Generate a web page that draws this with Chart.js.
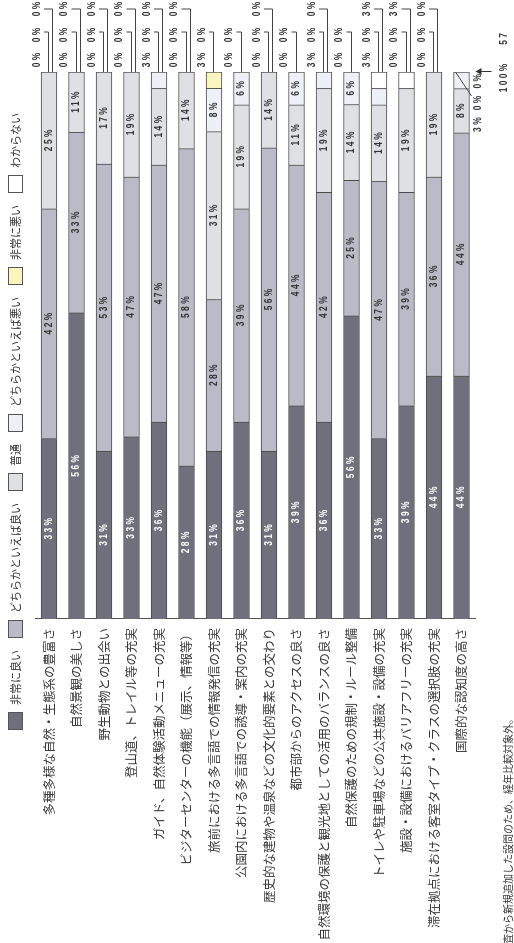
<!DOCTYPE html>
<html lang="ja">
<head>
<meta charset="UTF-8">
<title>国立公園の評価</title>
<style>
  html, body { margin: 0; padding: 0; background: #fff; overflow: hidden; }
  /* chart is laid out landscape and turned a quarter turn counter-clockwise */
  #wrap {
    position: absolute; left: 0; top: 0;
    width: 943px; height: 514px;
    transform-origin: 0 0;
    transform: translateY(943px) rotate(-90deg);
  }
</style>
</head>
<body>
<div id="wrap"><canvas id="chart" width="943" height="514"></canvas></div>

<script src="https://cdn.jsdelivr.net/npm/chart.js@4"></script>
<script>
const categories = [
    '多種多様な自然・生態系の豊富さ',
    '自然景観の美しさ',
    '野生動物との出会い',
    '登山道、トレイル等の充実',
    'ガイド、自然体験活動メニューの充実',
    'ビジターセンターの機能（展示、情報等）',
    '旅前における多言語での情報発信の充実',
    '公園内における多言語での誘導・案内の充実',
    '歴史的な建物や温泉などの文化的要素との交わり',
    '都市部からのアクセスの良さ',
    '自然環境の保護と観光地としての活用のバランスの良さ',
    '自然保護のための規制・ルール整備',
    'トイレや駐車場などの公共施設・設備の充実',
    '施設・設備におけるバリアフリーの充実',
    '滞在拠点における客室タイプ・クラスの選択肢の充実',
    '国際的な認知度の高さ'
];
const seriesNames = ['非常に良い', 'どちらかといえば良い', '普通', 'どちらかといえば悪い', '非常に悪い', 'わからない'];
const seriesColors = ['#70707c', '#babbc7', '#dfe0e4', '#eef0f7', '#faf5bf', '#ffffff'];

const veryGood = [33, 56, 31, 33, 36, 28, 31, 36, 31, 39, 36, 56, 33, 39, 44, 44];
const good     = [42, 33, 53, 47, 47, 58, 28, 39, 56, 44, 42, 25, 47, 39, 36, 44];
const neutral  = [25, 11, 17, 19, 14, 14, 31, 19, 14, 11, 19, 14, 14, 19, 19, 8];
const bad      = [0, 0, 0, 0, 3, 0, 8, 6, 0, 6, 3, 6, 3, 0, 0, 3];
const veryBad  = [0, 0, 0, 0, 0, 0, 3, 0, 0, 0, 0, 0, 0, 0, 0, 0];
const unknown  = [0, 0, 0, 0, 0, 0, 0, 0, 0, 0, 0, 0, 3, 3, 0, 0];

const footnote = '査から新規追加した設問のため、経年比較対象外。';
const totalNote = ['100%', '57'];

const rawValues = [veryGood, good, neutral, bad, veryBad, unknown];

// bars are drawn as shares of each row so every bar reaches the 100% line
const rowSums = categories.map((c, i) => rawValues.reduce((s, arr) => s + arr[i], 0));

const jpFont = '"Noto Sans CJK JP", "Noto Sans", sans-serif';

// percentages are set in a squeezed, letter-spaced face like the original
function drawPct(ctx, text, x, y, align) {
    const sx = 0.8;
    ctx.save();
    ctx.font = 'bold 10.5px "Liberation Sans", Arial, sans-serif';
    ctx.letterSpacing = '3px';
    ctx.textBaseline = 'middle';
    const w = ctx.measureText(text).width - 3;
    let left = x;
    if (align === 'center') left = x - w * sx / 2;
    if (align === 'right') left = x - w * sx;
    ctx.translate(left, y);
    ctx.scale(sx, 1);
    ctx.textAlign = 'left';
    ctx.fillText(text, 0, 0);
    ctx.restore();
}

const legendPlugin = {
    id: 'customLegend',
    afterDraw(chart) {
        const ctx = chart.ctx;
        ctx.save();
        ctx.font = '11px ' + jpFont;
        ctx.textBaseline = 'middle';
        ctx.textAlign = 'left';
        let x = 213;
        const y = 8;
        seriesNames.forEach((name, i) => {
            ctx.fillStyle = seriesColors[i];
            ctx.fillRect(x, y, 18, 15);
            ctx.strokeStyle = '#555';
            ctx.lineWidth = 1;
            ctx.strokeRect(x + 0.5, y + 0.5, 17, 14);
            ctx.fillStyle = '#333';
            ctx.fillText(name, x + 25, y + 8);
            x += 25 + ctx.measureText(name).width + 12;
        });
        ctx.restore();
    }
};

const pctPlugin = {
    id: 'pctLabels',
    afterDatasetsDraw(chart) {
        const ctx = chart.ctx;
        const xs = chart.scales.x, ys = chart.scales.y;
        const xEnd = xs.getPixelForValue(100);
        ctx.save();

        // labels inside the segments
        chart.data.datasets.forEach((ds, di) => {
            const meta = chart.getDatasetMeta(di);
            meta.data.forEach((bar, i) => {
                const v = rawValues[di][i];
                if (v < 5) return;
                ctx.fillStyle = di === 0 ? '#ffffff' : '#333333';
                drawPct(ctx, v + '%', (bar.base + bar.x) / 2, bar.y, 'center');
            });
        });

        // small shares are written past the end of the bar with leader lines
        ctx.strokeStyle = '#444';
        ctx.lineWidth = 1;
        categories.forEach((c, i) => {
            const yc = ys.getPixelForValue(i);
            const small = [3, 4, 5].filter(di => rawValues[di][i] < 5);
            ctx.fillStyle = '#333';
            if (i === categories.length - 1) {
                // last row: labels sit under the bar end
                const txt = small.map(di => rawValues[di][i] + '%').join(' ');
                drawPct(ctx, txt, xEnd - 2, yc + 17, 'right');
                ctx.beginPath();
                ctx.moveTo(xEnd, yc - 6);
                ctx.lineTo(xEnd - 24, yc + 10);
                ctx.stroke();
                return;
            }
            const offs = [12, 37, 63];
            small.forEach((di, k) => {
                const xk = xEnd + offs[k];
                drawPct(ctx, rawValues[di][i] + '%', xk, yc - 12, 'center');
                if (k > 0) {
                    const ly = Math.round(yc + (k === 1 ? -1 : 3)) + 0.5;
                    const lx = xk + (k === 1 ? 3 : 0);
                    ctx.beginPath();
                    ctx.moveTo(xEnd, ly);
                    ctx.lineTo(lx, ly);
                    ctx.lineTo(lx, yc - 5);
                    ctx.stroke();
                }
            });
        });
        ctx.restore();
    },
    afterDraw(chart) {
        const ctx = chart.ctx;
        const xs = chart.scales.x, ys = chart.scales.y;
        const xEnd = xs.getPixelForValue(100);
        const yLast = ys.getPixelForValue(categories.length - 1);
        ctx.save();
        // total marker
        ctx.fillStyle = '#333';
        drawPct(ctx, totalNote[0], xEnd - 6, yLast + 43, 'center');
        drawPct(ctx, totalNote[1], xEnd + 33, yLast + 43, 'center');
        ctx.strokeStyle = '#333';
        ctx.beginPath();
        ctx.moveTo(xEnd + 0.5, yLast + 30);
        ctx.lineTo(xEnd + 0.5, yLast + 18);
        ctx.stroke();
        ctx.beginPath();
        ctx.moveTo(xEnd + 0.5, yLast + 14);
        ctx.lineTo(xEnd - 3, yLast + 20);
        ctx.lineTo(xEnd + 4, yLast + 20);
        ctx.closePath();
        ctx.fill();
        // footnote
        ctx.font = '10px ' + jpFont;
        ctx.textBaseline = 'middle';
        ctx.textAlign = 'left';
        ctx.fillText(footnote, -1, 508);
        ctx.restore();
    }
};

const datasets = seriesNames.map((name, di) => ({
    label: name,
    data: rawValues[di].map((v, i) => v / rowSums[i] * 100),
    backgroundColor: seriesColors[di],
    borderColor: '#4a4a4a',
    borderWidth: 1,
    barThickness: 16
}));

new Chart(document.getElementById('chart'), {
    type: 'bar',
    data: { labels: categories, datasets: datasets },
    options: {
        indexAxis: 'y',
        responsive: false,
        animation: false,
        layout: { padding: { top: 35.25, bottom: 38.75, right: 72, left: 0 } },
        plugins: {
            legend: { display: false },
            tooltip: { enabled: false }
        },
        scales: {
            x: { stacked: true, min: 0, max: 100, display: false },
            y: {
                stacked: true,
                grid: { display: false, drawTicks: false },
                border: { display: true, color: '#555', width: 1 },
                ticks: {
                    autoSkip: false,
                    padding: 9,
                    color: '#3a3a3a',
                    font: { family: '"Noto Sans CJK JP", "Noto Sans", sans-serif', size: 12.5 }
                },
                afterFit(scale) { scale.width = 324; }
            }
        }
    },
    plugins: [legendPlugin, pctPlugin]
});
</script>
</body>
</html>
